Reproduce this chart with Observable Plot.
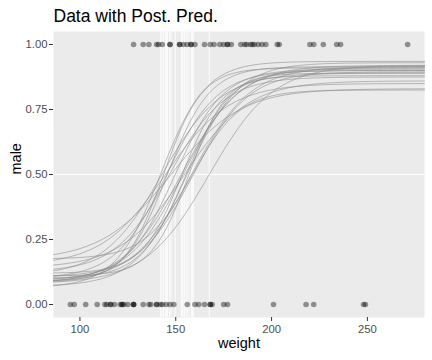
<!DOCTYPE html>
<html><head><meta charset="utf-8">
<script src="https://cdn.jsdelivr.net/npm/d3@7"></script>
<script src="https://cdn.jsdelivr.net/npm/@observablehq/plot@0.6"></script>
<style>body{margin:0;background:#fff;}</style>
</head><body><div id="chart"></div>
<script>
const title = "Data with Post. Pred.";
const xLabel = "weight";
const yLabel = "male";
const xTicks = [100, 150, 200, 250];
const yTicks = [0, 0.25, 0.5, 0.75, 1];

// observed data (male = 0 / male = 1)
const femaleWeights = [95, 97, 103, 109, 113, 114, 116, 116, 118, 121, 122, 122, 123, 125, 128, 128, 128, 133, 136, 137, 140, 140, 142, 143, 145, 147, 149, 156, 160, 162, 165, 168, 168, 169, 175, 177, 201, 218, 222, 248, 249];
const maleWeights = [128, 133, 136, 140, 141, 143, 147, 147, 152, 152, 154, 156, 158, 158, 160, 165, 168, 170, 173, 175, 177, 177, 179, 184, 186, 187, 189, 190, 191, 193, 195, 197, 203, 204, 220, 222, 227, 234, 236, 271];

// posterior predictive curve parameters (threshold, slope, guess)
const thresholds = [142.0, 142.8, 143.6, 144.6, 145.2, 145.6, 146.7, 147.5, 149.7, 152.9, 153.3, 153.8, 154.6, 155.4, 155.9, 156.9, 158.2, 158.7, 159.2, 167.5];
const slopes =     [0.085, 0.065, 0.10, 0.06, 0.075, 0.09, 0.07, 0.055, 0.08, 0.065, 0.095, 0.07, 0.06, 0.085, 0.075, 0.10, 0.065, 0.08, 0.07, 0.06];
const guesses =    [0.13, 0.22, 0.18, 0.30, 0.20, 0.17, 0.25, 0.34, 0.19, 0.16, 0.24, 0.18, 0.28, 0.20, 0.14, 0.22, 0.17, 0.35, 0.21, 0.16];

const points = [
  ...femaleWeights.map(w => ({weight: w, male: 0})),
  ...maleWeights.map(w => ({weight: w, male: 1}))
];
const allW = points.map(d => d.weight);
const wMin = d3.min(allW), wMax = d3.max(allW);
const pad = 0.05 * (wMax - wMin);
const xDomain = [wMin - pad, wMax + pad];
const grid = d3.range(0, 201).map(i => xDomain[0] + (xDomain[1] - xDomain[0]) * i / 200);
const curves = thresholds.flatMap((t, i) => grid.map(x => ({
  id: i, weight: x,
  male: guesses[i] / 2 + (1 - guesses[i]) / (1 + Math.exp(-slopes[i] * (x - t)))
})));

const chart = Plot.plot({
  width: 432, height: 360,
  marginTop: 31, marginBottom: 43, marginLeft: 53, marginRight: 8,
  x: {domain: xDomain},
  y: {domain: [-0.05, 1.05]},
  style: {fontFamily: "'Liberation Sans', Arial, Helvetica, sans-serif", background: "white", overflow: "visible"},
  marks: [
    Plot.frame({fill: "#EBEBEB", stroke: "none"}),
    Plot.ruleX(thresholds, {stroke: "white", strokeOpacity: 0.8, strokeWidth: 1}),
    Plot.ruleY([0.5], {stroke: "white", strokeWidth: 1.1}),
    Plot.line(curves, {x: "weight", y: "male", z: "id", stroke: "#8a8a8a", strokeOpacity: 0.85, strokeWidth: 0.7}),
    Plot.dot(points, {x: "weight", y: "male", r: 2.8, fill: "black", fillOpacity: 0.4, stroke: "none"}),
    Plot.axisX({ticks: xTicks, tickSize: 4, tickPadding: 3, fontSize: 11.3, label: null, stroke: "#333333", fill: "#4d4d4d"}),
    Plot.axisY({ticks: yTicks, tickSize: 4, tickPadding: 2, fontSize: 11.3, label: null, tickFormat: d3.format(".2f"), stroke: "#333333", fill: "#4d4d4d"}),
    Plot.text([xLabel], {frameAnchor: "bottom", dy: 30, fontSize: 14.5, fill: "black"}),
    Plot.text([yLabel], {frameAnchor: "left", dx: -37, rotate: -90, fontSize: 14.5, fill: "black"}),
    Plot.text([title], {frameAnchor: "top-left", textAnchor: "start", lineAnchor: "bottom", dy: -10, fontSize: 17.5, fill: "black"})
  ]
});
document.getElementById("chart").appendChild(chart);
</script>
</body></html>
